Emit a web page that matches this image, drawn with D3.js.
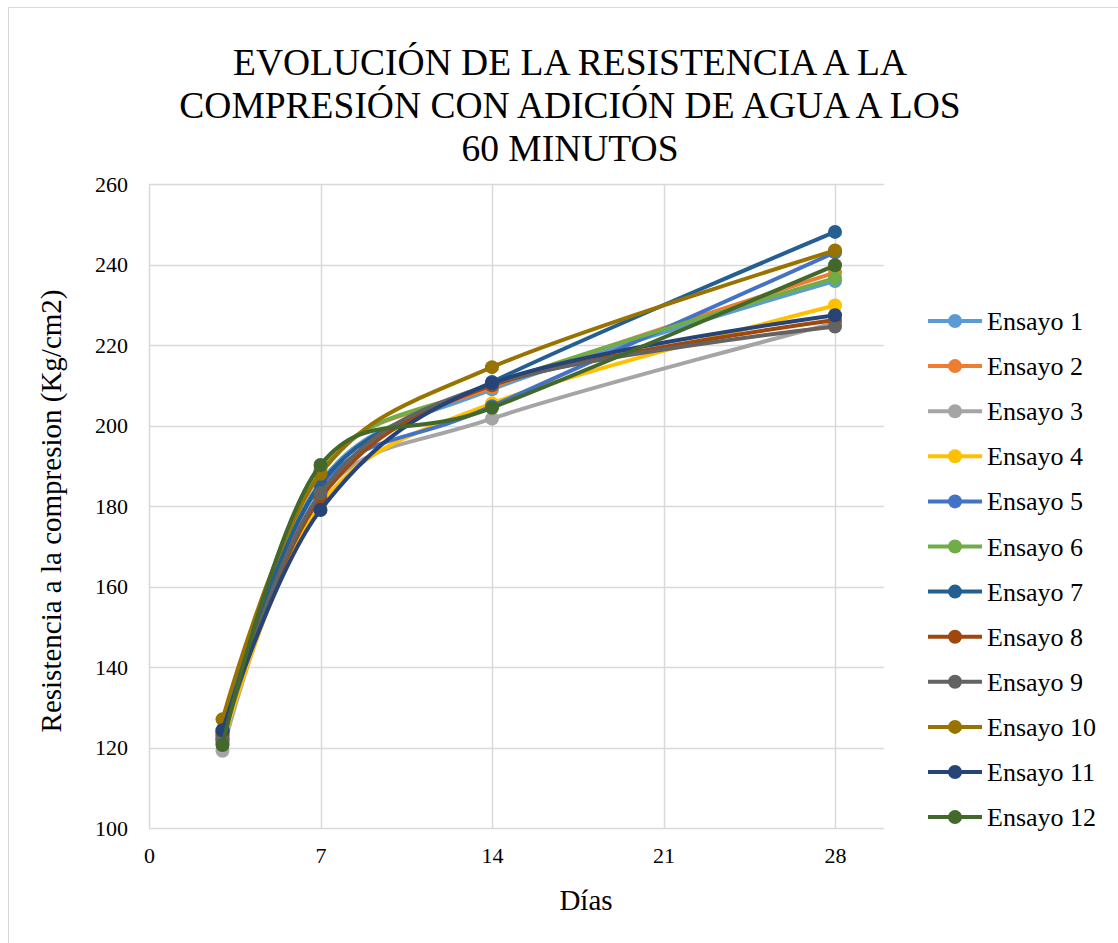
<!DOCTYPE html>
<html><head><meta charset="utf-8">
<script src="https://cdn.jsdelivr.net/npm/d3@7"></script>
<style>body{margin:0;background:#fff}svg{display:block}svg text{font-family:"Liberation Serif" !important}</style>
</head><body>
<svg id="c" width="1118" height="943" font-family="Liberation Serif"></svg>
<script>
const days = [3, 7, 14, 28];
const seriesNames = ["Ensayo 1","Ensayo 2","Ensayo 3","Ensayo 4","Ensayo 5","Ensayo 6","Ensayo 7","Ensayo 8","Ensayo 9","Ensayo 10","Ensayo 11","Ensayo 12"];
const ensayo1  = [122.0, 186.0, 209.0, 235.9];
const ensayo2  = [122.5, 189.0, 209.5, 238.0];
const ensayo3  = [119.2, 182.5, 201.7, 225.5];
const ensayo4  = [121.0, 180.5, 205.5, 229.8];
const ensayo5  = [123.5, 185.0, 204.8, 243.0];
const ensayo6  = [121.5, 188.5, 210.0, 236.6];
const ensayo7  = [124.0, 185.5, 210.8, 248.1];
const ensayo8  = [123.0, 182.0, 210.0, 226.2];
const ensayo9  = [122.0, 183.2, 210.3, 224.6];
const ensayo10 = [127.0, 188.0, 214.5, 243.5];
const ensayo11 = [124.3, 179.0, 210.5, 227.4];
const ensayo12 = [120.6, 190.2, 204.4, 239.8];
const colors = ["#5B9BD5","#ED7D31","#A5A5A5","#FFC000","#4472C4","#70AD47","#255E91","#9E480E","#636363","#997300","#264478","#43682B"];
const xTicks = [0, 7, 14, 21, 28];
const yTicks = [100, 120, 140, 160, 180, 200, 220, 240, 260];
const title = ["EVOLUCIÓN DE LA RESISTENCIA A LA", "COMPRESIÓN CON ADICIÓN DE AGUA A LOS", "60 MINUTOS"];
const xTitle = "Días";
const yTitle = "Resistencia a la compresion (Kg/cm2)";

const allValues = [ensayo1,ensayo2,ensayo3,ensayo4,ensayo5,ensayo6,ensayo7,ensayo8,ensayo9,ensayo10,ensayo11,ensayo12];
const series = seriesNames.map((n,i)=>({name:n, color:colors[i], pts: days.map((d,j)=>({x:d,y:allValues[i][j]}))}));
const FF = "Liberation Serif";

const svg = d3.select("#c");
svg.append("path").attr("d","M8.5,943 V7.5 H1118").attr("fill","none").attr("stroke","#d9d9d9").attr("stroke-width",1);

const L = 149, R = 884, T = 184, B = 828;
const x = d3.scaleLinear().domain([0,30]).range([L,R]);
const y = d3.scaleLinear().domain([100,260]).range([B,T]);

svg.append("g").selectAll("text").data(title).join("text")
  .attr("x",570).attr("y",(d,i)=>75+i*43).attr("text-anchor","middle").attr("fill","#000")
  .attr("font-family",FF).attr("font-size",37.5).text(d=>d);

const grid = svg.append("g");
grid.selectAll("line.h").data(yTicks).join("line").attr("class","h")
  .attr("x1",L).attr("x2",R).attr("y1",d=>Math.round(y(d))+0.5).attr("y2",d=>Math.round(y(d))+0.5)
  .attr("stroke","#d9d9d9").attr("stroke-width",1.5);
grid.selectAll("line.v").data(xTicks).join("line").attr("class","v")
  .attr("x1",d=>Math.round(x(d))+0.5).attr("x2",d=>Math.round(x(d))+0.5).attr("y1",T).attr("y2",B)
  .attr("stroke","#d9d9d9").attr("stroke-width",1.5);

const ya = svg.append("g").attr("transform",`translate(${L},0)`)
  .call(d3.axisLeft(y).tickValues(yTicks).tickSize(0).tickPadding(21));
ya.select(".domain").remove();
ya.attr("font-family",FF).attr("font-size",22);
ya.selectAll("text").attr("fill","#000");
const xa = svg.append("g").attr("transform",`translate(0,${B})`)
  .call(d3.axisBottom(x).tickValues(xTicks).tickSize(0).tickPadding(19));
xa.select(".domain").remove();
xa.attr("font-family",FF).attr("font-size",22);
xa.selectAll("text").attr("fill","#000");

svg.append("text").attr("x",586).attr("y",910).attr("text-anchor","middle").attr("font-family",FF).attr("font-size",29).text(xTitle);
svg.append("text").attr("transform","translate(61,511) rotate(-90)").attr("text-anchor","middle").attr("font-family",FF).attr("font-size",29).text(yTitle);

const line = d3.line().x(d=>x(d.x)).y(d=>y(d.y)).curve(d3.curveCatmullRom.alpha(0));
const g = svg.append("g");
series.forEach(s=>{
  g.append("path").attr("d",line(s.pts)).attr("fill","none").attr("stroke",s.color).attr("stroke-width",4).attr("stroke-linecap","round");
  g.selectAll(null).data(s.pts).join("circle").attr("cx",d=>x(d.x)).attr("cy",d=>y(d.y)).attr("r",7).attr("fill",s.color);
});

const lg = svg.append("g");
series.forEach((s,i)=>{
  const yy = 321 + i*45.1;
  lg.append("line").attr("x1",928).attr("x2",982).attr("y1",yy).attr("y2",yy).attr("stroke",s.color).attr("stroke-width",4);
  lg.append("circle").attr("cx",955).attr("cy",yy).attr("r",7).attr("fill",s.color);
  lg.append("text").attr("x",987).attr("y",yy+9).attr("font-family",FF).attr("font-size",26).text(s.name);
});
</script>
</body></html>
